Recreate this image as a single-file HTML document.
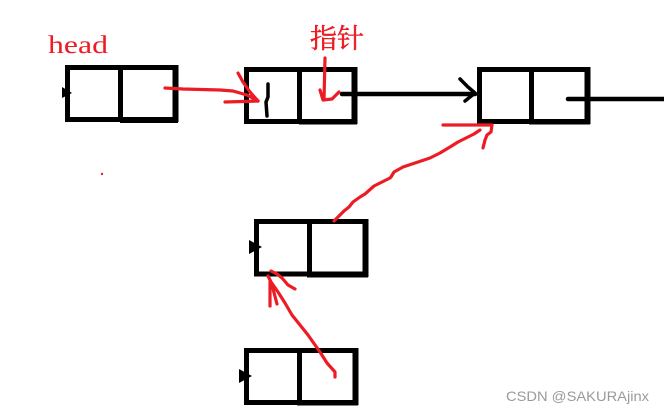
<!DOCTYPE html>
<html><head><meta charset="utf-8"><style>
html,body{margin:0;padding:0;background:#fff}
svg{display:block}
</style></head><body>
<svg width="664" height="413" viewBox="0 0 664 413" xmlns="http://www.w3.org/2000/svg">
<rect width="664" height="413" fill="#fff"/>
<g fill="none" stroke="#000" stroke-width="5">
<rect x="67.5" y="67.5" width="108" height="52"/><path d="M120.5 67v55"/><path d="M175.5 65v57" stroke-width="6"/><path d="M120 120.5h58"/>
<rect x="246.5" y="69.5" width="108" height="52"/><path d="M299.5 69v55"/><path d="M354.5 67v57" stroke-width="6"/><path d="M299 122h58"/>
<rect x="479.5" y="69.5" width="108" height="52"/><path d="M531.5 69v55"/><path d="M587.5 67v57" stroke-width="6"/><path d="M529 122h61"/>
<rect x="256.5" y="221.5" width="109" height="52.5"/><path d="M309.5 221v56"/><path d="M365.5 219v58" stroke-width="6"/><path d="M307 275h61"/>
<rect x="246.5" y="350.5" width="109" height="52"/><path d="M299.5 350v55"/><path d="M355.5 348v57" stroke-width="6"/><path d="M297 403h61"/>
</g>
<g fill="#000"><path d="M62 87l10 6-10 5z"/><path d="M249 240l13 7-13 7z"/><path d="M239 369l13 7-13 7z"/></g>
<g fill="none" stroke="#000" stroke-width="3.5" stroke-linecap="round" stroke-linejoin="round">
<path d="M268 84l0 13-2 5 1 14"/>
<path d="M342 94H475" stroke-width="4.5"/>
<path d="M460 79l8 8 7 6-10 8"/>
<path d="M568 99H664" stroke-width="4.5"/>
</g>
<g fill="none" stroke="#ed1c24" stroke-width="3.2" stroke-linecap="round" stroke-linejoin="round">
<path d="M165 88l18 1 37 1 13 1 14 4 11 6"/>
<path d="M238 73l5 9 7 10 8 9"/>
<path d="M225 102l33-1"/>
<path d="M325 58l-1 42"/>
<path d="M320 90l3 10 9-1 7-7"/>
<path d="M443 125h49l-1 7-4 3-2 5-2 8"/>
<path d="M480 130l-6 4-6 3-10 5-8 5-10 6-10 5-12 4-15 5-9 5-3 5-1 1-16 8-9 8-5 3-7 5-4 5-5 4-5 5-5 5"/>
<path d="M335 377v-5l-8-9-7-11-12-17-8-10-8-10-7-12-7-11-7-10-3-6"/>
<path d="M270 306v-24"/>
<path d="M277 304l-5-19"/>
<path d="M271 271l6 3 5 4 6 7 7 4"/>
</g>
<circle cx="102" cy="174" r="1.2" fill="#ed1c24"/>
<text x="48" y="53" font-family="'Liberation Serif',serif" font-size="25" fill="#ed1c24" textLength="60" lengthAdjust="spacingAndGlyphs">head</text>
<text x="310" y="48" font-family="'Liberation Serif','Noto Serif CJK SC',serif" font-size="27" fill="#ed1c24" stroke="#ed1c24" stroke-width=".5">指针</text>
<text x="506" y="401" font-family="'Liberation Sans',sans-serif" font-size="14" fill="#9a9a9a" textLength="143" lengthAdjust="spacingAndGlyphs">CSDN @SAKURAjinx</text>
</svg>
</body></html>
